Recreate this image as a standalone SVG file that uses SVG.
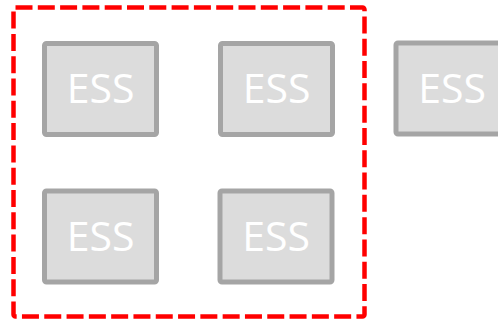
<svg xmlns="http://www.w3.org/2000/svg" width="498" height="321" viewBox="0 0 498 321">
<style>
.box{fill:#dcdcdc;stroke:#a5a5a5;stroke-width:5}
.lbl{fill:#ffffff;font-family:"Open Sans","Liberation Sans",sans-serif;font-size:41px;text-anchor:middle}
.grp{fill:none;stroke:#ff0000;stroke-width:4.5;stroke-dasharray:17 5.3}
</style>
<rect width="498" height="321" fill="#ffffff"/>
<g id="group">
<rect class="grp" x="13.5" y="7.5" width="351" height="309" rx="2"/>
</g>
<g id="ess1"><rect class="box" x="44.5" y="43.5" width="112" height="91" rx="2"/><text class="lbl" x="100.5" y="103">ESS</text></g>
<g id="ess2"><rect class="box" x="220.5" y="43.5" width="112" height="91" rx="2"/><text class="lbl" x="276.5" y="103">ESS</text></g>
<g id="ess3"><rect class="box" x="396" y="43" width="112" height="91" rx="2"/><text class="lbl" x="452" y="103">ESS</text></g>
<g id="ess4"><rect class="box" x="44.5" y="191" width="112" height="91" rx="2"/><text class="lbl" x="100.5" y="251">ESS</text></g>
<g id="ess5"><rect class="box" x="220" y="191" width="112" height="91" rx="2"/><text class="lbl" x="276" y="251">ESS</text></g>
<g id="connectors"></g>
</svg>
